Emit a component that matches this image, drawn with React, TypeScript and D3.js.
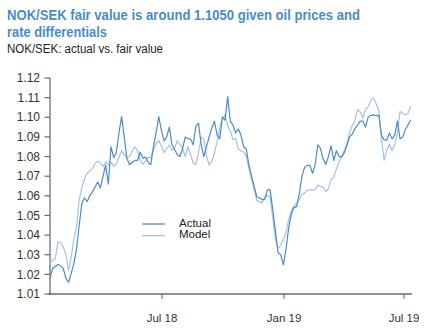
import React from "react";
import * as d3 from "d3";

const W = 430;
const H = 330;

const titleLines = ["NOK/SEK fair value is around 1.1050 given oil prices and", "rate differentials"];
const subtitle = "NOK/SEK: actual vs. fair value";

const START = new Date(2018, 0, 13);
const STEP_DAYS = 4;

const actual = [
  1.018, 1.023, 1.024, 1.025, 1.0245, 1.023, 1.018, 1.016, 1.0205, 1.0255,
  1.033, 1.045, 1.056, 1.059, 1.057, 1.06, 1.062, 1.0645, 1.067, 1.064,
  1.07, 1.0757, 1.066, 1.085, 1.0795, 1.082, 1.092, 1.1003, 1.09, 1.079,
  1.0758, 1.077, 1.078, 1.078,
  1.0822, 1.0792, 1.0798, 1.077, 1.076, 1.085, 1.092, 1.1003, 1.0935, 1.088,
  1.09, 1.095, 1.086, 1.0836, 1.081, 1.08, 1.084, 1.09, 1.089, 1.089,
  1.086, 1.0955, 1.097, 1.086, 1.08, 1.085, 1.09, 1.0945, 1.098, 1.091,
  1.089, 1.1, 1.0986, 1.1105,
  1.098, 1.096, 1.092, 1.094, 1.091, 1.085, 1.084, 1.0757, 1.07, 1.0647,
  1.0594, 1.059, 1.058, 1.0583, 1.063, 1.063, 1.053, 1.042, 1.031, 1.03,
  1.0248, 1.033, 1.0436, 1.0507, 1.054, 1.0545, 1.061, 1.07, 1.0745, 1.0755,
  1.0755, 1.0715, 1.076, 1.086,
  1.0842, 1.0787, 1.076, 1.08, 1.0855, 1.078, 1.083, 1.08, 1.08, 1.082,
  1.086, 1.09, 1.0915, 1.0943, 1.096, 1.098, 1.098, 1.095, 1.1003, 1.101,
  1.1012, 1.1008, 1.101, 1.091, 1.0885, 1.0884, 1.092, 1.089, 1.091, 1.098,
  1.089, 1.09, 1.0938, 1.096, 1.0986,
];

const model = [
  1.0257, 1.0272, 1.028, 1.0367, 1.0362, 1.034, 1.03, 1.022, 1.0287, 1.038,
  1.044, 1.058, 1.064, 1.0686, 1.0715, 1.0726, 1.074, 1.0766, 1.0776, 1.0767,
  1.075, 1.0772, 1.0758, 1.0772, 1.0751, 1.0762, 1.0795, 1.083, 1.081, 1.0795,
  1.08, 1.083, 1.0848, 1.083,
  1.0782, 1.076, 1.0778, 1.0797, 1.0793, 1.0835, 1.0864, 1.0882, 1.0854, 1.082,
  1.0842, 1.0858, 1.0832, 1.0845, 1.0882, 1.086, 1.084, 1.08, 1.085, 1.0812,
  1.0768, 1.076, 1.082, 1.09, 1.0888, 1.0805, 1.0757, 1.0774, 1.0817, 1.0875,
  1.0945, 1.1, 1.101, 1.0955,
  1.093, 1.0886, 1.0892, 1.0838, 1.0828, 1.0823, 1.0805, 1.0738, 1.0684, 1.063,
  1.0577, 1.0569, 1.0565, 1.0594, 1.06, 1.0594, 1.0487, 1.038, 1.0334, 1.0348,
  1.0375, 1.0412, 1.048, 1.0522, 1.0549, 1.0562, 1.058, 1.0607, 1.0615, 1.0628,
  1.063, 1.063, 1.063, 1.0655,
  1.0647, 1.0645, 1.0621, 1.0638, 1.0685, 1.0695, 1.0737, 1.0772, 1.08, 1.0832,
  1.0865, 1.0924, 1.0958, 1.0986, 1.104, 1.1025, 1.0995, 1.104, 1.1054, 1.109,
  1.1098, 1.1069, 1.1033, 1.089, 1.078, 1.0835, 1.0862, 1.083, 1.086, 1.092,
  1.1029, 1.102, 1.1012, 1.102, 1.1054,
];

const yTicks = [1.01, 1.02, 1.03, 1.04, 1.05, 1.06, 1.07, 1.08, 1.09, 1.1, 1.11, 1.12];
const xTickDates = [new Date(2018, 6, 1), new Date(2019, 0, 1), new Date(2019, 6, 1)];
const xTickLabels = ["Jul 18", "Jan 19", "Jul 19"];

const seriesNames = ["Actual", "Model"];
const seriesColors = ["#4d8bc8", "#a3c2e4"];

const FONT = "'Liberation Sans', Arial, sans-serif";

export default function App() {
  const dates = actual.map((_, i) => d3.timeDay.offset(START, i * STEP_DAYS));
  const x = d3
    .scaleTime()
    .domain([new Date(2018, 0, 13), new Date(2019, 6, 13)])
    .range([50, 412]);
  const y = d3.scaleLinear().domain([1.01, 1.12]).range([294, 78]);

  const line = d3
    .line<number>()
    .x((_, i) => x(dates[i]))
    .y((d) => y(d));

  const series = [actual, model];

  return (
    <svg
      width={W}
      height={H}
      style={{ position: "absolute", left: 0, top: 0, background: "#fff" }}
      fontFamily={FONT}
    >
      <text x={7} y={19.5} fontSize={14} fontWeight="bold" fill="#4a8bcb" textLength={353} lengthAdjust="spacingAndGlyphs">
        {titleLines[0]}
      </text>
      <text x={7} y={36.5} fontSize={14} fontWeight="bold" fill="#4a8bcb" textLength={100} lengthAdjust="spacingAndGlyphs">
        {titleLines[1]}
      </text>
      <text x={7} y={53} fontSize={12} fill="#222" textLength={156} lengthAdjust="spacingAndGlyphs">
        {subtitle}
      </text>

      {/* Y axis */}
      <line x1={50} x2={50} y1={y(1.12)} y2={y(1.01)} stroke="#8a8a8a" strokeWidth={1.6} />
      {yTicks.map((t) => (
        <g key={t}>
          <line x1={44.5} x2={50} y1={y(t)} y2={y(t)} stroke="#6a6a6a" strokeWidth={1.2} />
          <text x={40} y={y(t)} dy="0.35em" textAnchor="end" fontSize={12} fill="#333">
            {d3.format(".2f")(t)}
          </text>
        </g>
      ))}

      {/* X axis */}
      <line x1={49} x2={412} y1={y(1.01)} y2={y(1.01)} stroke="#222" strokeWidth={1.2} />
      {xTickDates.map((d, i) => (
        <g key={i}>
          <line x1={x(d)} x2={x(d)} y1={y(1.01)} y2={y(1.01) + 5} stroke="#777" strokeWidth={1.2} />
          <text x={x(d)} y={322} textAnchor="middle" fontSize={11.5} fill="#333">
            {xTickLabels[i]}
          </text>
        </g>
      ))}

      {/* Lines: model behind actual */}
      <path d={line(model) || ""} fill="none" stroke={seriesColors[1]} strokeWidth={1.2} strokeLinejoin="round" />
      <path d={line(actual) || ""} fill="none" stroke={seriesColors[0]} strokeWidth={1.2} strokeLinejoin="round" />

      {/* Legend */}
      {seriesNames.map((name, i) => (
        <g key={name}>
          <line x1={142} x2={165} y1={224 + i * 11.7} y2={224 + i * 11.7} stroke={seriesColors[i]} strokeWidth={1.3} />
          <text x={179} y={226.5 + i * 11} fontSize={11.5} fill="#222">
            {name}
          </text>
        </g>
      ))}
    </svg>
  );
}
